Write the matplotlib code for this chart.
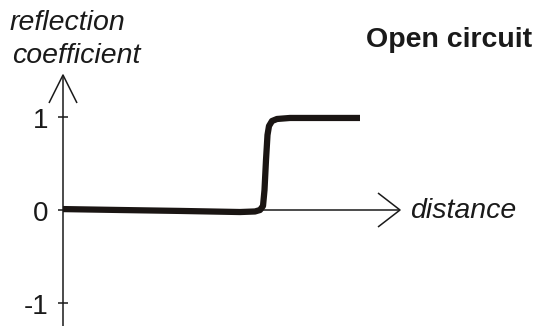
import matplotlib
matplotlib.use('Agg')
import matplotlib.pyplot as plt

plt.rcParams['font.family'] = ['Liberation Sans', 'DejaVu Sans']

# pixel scale of the sketch: 1 unit of reflection = 92.5 px
PX = 92.5

# curve (distance in px from origin, reflection coefficient)
distance = [0, 57, 117, 177, 192, 197, 200, 201.5, 203, 204.5, 206, 209, 214, 227, 297]
reflection = [0.01, 0.0, -0.01, -0.022, -0.016, 0.0, 0.043, 0.216, 0.54, 0.811,
              0.908, 0.962, 0.984, 0.995, 0.995]

tick_values = [1, 0, -1]
tick_labels = ['1', '0', '-1']

fig = plt.figure(figsize=(5.35, 3.26), dpi=100)
ax = fig.add_axes([0, 0, 1, 1])
ax.set_xlim(-63, 472)
ax.set_ylim(-(326 - 210) / PX, 210 / PX)
ax.axis('off')

axis_kw = dict(color='#1a1a1a', lw=1.1, solid_capstyle='butt')

# y axis with open arrow head
y_top = (210 - 75) / PX
ax.plot([0, 0], [ax.get_ylim()[0], y_top], **axis_kw)
ax.plot([-14, 0, 14], [y_top - 28 / PX, y_top, y_top - 28 / PX], **axis_kw)

# x axis with open arrow head
x_tip = 337
ax.plot([0, x_tip], [0, 0], **axis_kw)
ax.plot([x_tip - 22, x_tip, x_tip - 22], [17 / PX, 0, -17 / PX], **axis_kw)

# ticks and labels
for v, lab in zip(tick_values, tick_labels):
    ax.plot([-5, 5], [v, v], **axis_kw)
    ax.text(-15, v - 11 / PX, lab, ha='right', va='baseline', fontsize=20, color='#1a1a1a')

# the reflection curve
ax.plot(distance, reflection, color='#1a1513', lw=4.5,
        solid_capstyle='butt', solid_joinstyle='round')

ax.text(-53, (210 - 30) / PX, 'reflection', style='italic', fontsize=20.5,
        ha='left', va='baseline', color='#1a1a1a')
ax.text(-51, (210 - 63) / PX, 'coefficient', style='italic', fontsize=20.5,
        ha='left', va='baseline', color='#1a1a1a')
ax.text(x_tip + 10, (210 - 218) / PX, 'distance', style='italic', fontsize=20.5,
        ha='left', va='baseline', color='#1a1a1a')
ax.text(532 - 63, (210 - 47) / PX, 'Open circuit', fontweight='bold', fontsize=20.5,
        ha='right', va='baseline', color='#1a1a1a')

plt.savefig('out.png', dpi=100)
plt.close()
